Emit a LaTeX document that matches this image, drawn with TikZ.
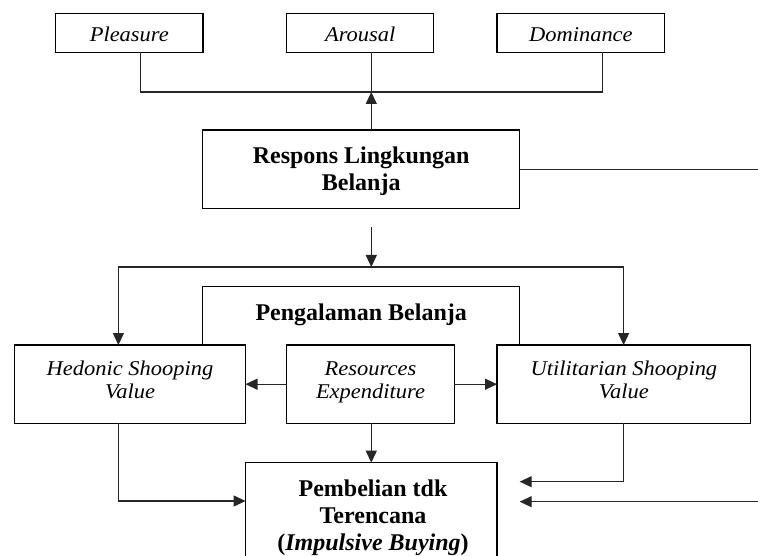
\documentclass[tikz,border=0pt]{standalone}
\usepackage{fontspec}
\setmainfont{Liberation Serif}
\newfontfamily\itfont{Liberation Serif}[FakeStretch=1.07]
\usetikzlibrary{arrows.meta,calc}
\newcommand{\topstrut}[1]{\rule{0pt}{#1pt}}
\newcommand{\botstrut}[1]{\rule[-#1pt]{0pt}{#1pt}}
\begin{document}
\begin{tikzpicture}[x=1pt,y=-1pt,
  every node/.style={inner sep=0pt, outer sep=0pt},
  box/.style={draw=black, line width=1.2pt, align=center, minimum height=39pt},
  bigbox/.style={draw=black, line width=1.2pt, align=center, minimum height=78.3pt},
  itx/.style={font=\fontsize{21}{22.6}\selectfont\itfont\itshape},
  bfx/.style={font=\fontsize{24}{26.8}\selectfont\bfseries},
  ln/.style={line width=1.2pt, draw=black!85},
  arr/.style={ln, -{Triangle[length=12pt,width=11pt]}}]
\useasboundingbox (0,0) rectangle (758,556);
\clip (0,0) rectangle (758,556);
% top row
\node[box, itx, minimum width=147.4pt] (pleasure) at (129.3,32.8) {\topstrut{17.8}Pleasure};
\node[box, itx, minimum width=147pt] (arousal) at (360.2,32.8) {\topstrut{17.8}Arousal};
\node[box, itx, minimum width=167.7pt] (dominance) at (580.9,32.8) {\topstrut{17.8}Dominance};
% respons
\node[bigbox, bfx, minimum width=317pt] (resp) at (361.2,169.2) {\topstrut{21}Respons Lingkungan\\Belanja\botstrut{6}};
% pengalaman
\node[bfx, minimum width=317pt, minimum height=58.3pt] (peng) at (361.2,315.9) {Pengalaman Belanja\botstrut{8.2}};
\draw[line width=1.2pt] (peng.south west) -- (peng.north west) -- (peng.north east) -- (peng.south east);
% middle row
\node[bigbox, itx, minimum width=231pt] (hed) at (130,384.2) {\topstrut{14.5}Hedonic Shooping\\Value\botstrut{8.9}};
\node[bigbox, itx, minimum width=167.7pt, fill=white] (res) at (370.5,384.2) {\topstrut{14.5}Resources\\Expenditure\botstrut{8.9}};
\node[bigbox, itx, minimum width=253.7pt] (util) at (623.9,384.2) {\topstrut{14.5}Utilitarian Shooping\\Value\botstrut{8.9}};
% pembelian
\node[draw=black, line width=1.2pt, minimum width=251.4pt, minimum height=127pt, anchor=north] (pemb) at (371.3,462.7) {};
\node[bfx, align=center, anchor=north] (pembtext) at (373,479.7) {\topstrut{17}Pembelian tdk\\Terencana\\(\textit{Impulsive Buying})};
% coordinates
\coordinate (pl) at (140.2,92);
\coordinate (dl) at (602.8,92);
\coordinate (jt) at (371.3,92);
\coordinate (rightedge) at (758,0);
\coordinate (ds) at (371.3,227.3);
\coordinate (dj) at (371.3,267);
\coordinate (hl) at (118.4,267);
\coordinate (ul) at (623.6,267);
\coordinate (hb) at (118.4,501);
\coordinate (ub) at (623.6,481.7);
\coordinate (ptip) at (519.7,481.7);
\coordinate (rb) at (758,501.7);
% connectors
\draw[ln] (pleasure.south -| pl) -- (pl) -- (dl) -- (dominance.south -| dl);
\draw[ln] (arousal.south -| jt) -- (jt);
\draw[arr] (resp.north -| jt) -- (jt);
\draw[ln] (resp.east) -- (resp.east -| rightedge);
\draw[arr] (ds) -- (dj);
\draw[ln] (hl) -- (ul);
\draw[arr] (hl) -- (hl |- hed.north);
\draw[arr] (ul) -- (ul |- util.north);
\draw[arr] (res.west) -- (hed.east);
\draw[arr] (res.east) -- (util.west);
\draw[arr] (res.south -| pemb.north) -- (pemb.north);
\draw[arr] (hed.south -| hb) -- (hb) -- (hb -| pemb.west);
\draw[arr] (util.south -| ub) -- (ub) -- (ptip);
\draw[arr] (rb) -- (rb -| ptip);
\end{tikzpicture}
\end{document}
